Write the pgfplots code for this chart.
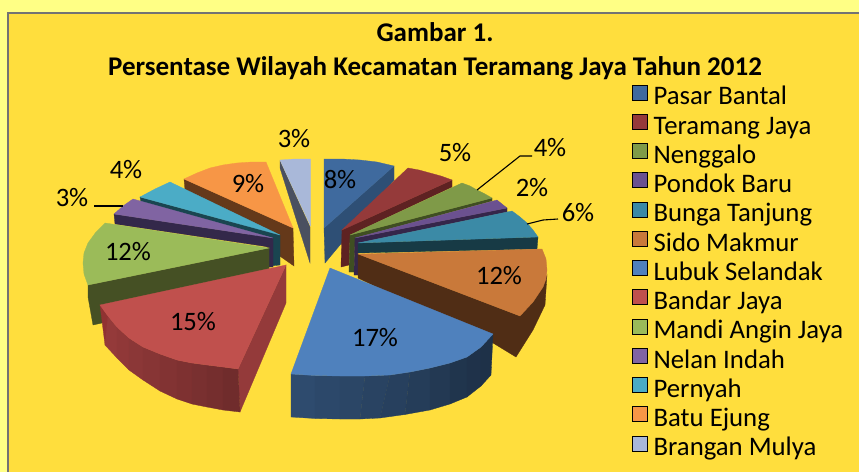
\documentclass[border=0pt]{standalone}
\usepackage{pgfplots}
\pgfplotsset{compat=1.18}
\usepackage{fontspec}
\setmainfont{Carlito}
\definecolor{bgout}{HTML}{FFFF85}
\definecolor{bgin}{HTML}{FFDE3D}
\definecolor{cA}{HTML}{3F6A9E}\definecolor{cAs}{HTML}{2E4F75}
\definecolor{cB}{HTML}{953A3A}\definecolor{cBs}{HTML}{5E2222}
\definecolor{cC}{HTML}{7F9A48}\definecolor{cCs}{HTML}{3F4E22}
\definecolor{cD}{HTML}{6B5190}\definecolor{cDs}{HTML}{35264A}
\definecolor{cE}{HTML}{3B8AA6}\definecolor{cEs}{HTML}{173A45}
\definecolor{cF}{HTML}{C9793A}\definecolor{cFs}{HTML}{502D15}
\definecolor{cG}{HTML}{4F81BD}
\definecolor{cH}{HTML}{C0504D}\definecolor{cHs}{HTML}{943A3A}
\definecolor{cI}{HTML}{9BBB59}\definecolor{cIs}{HTML}{455024}
\definecolor{cJ}{HTML}{8064A2}\definecolor{cJs}{HTML}{33284A}
\definecolor{cK}{HTML}{4BACC6}\definecolor{cKs}{HTML}{1A4550}
\definecolor{cL}{HTML}{F79646}\definecolor{cLs}{HTML}{65391A}
\definecolor{cM}{HTML}{A9B8D9}\definecolor{cMs}{HTML}{4A5060}
\pgfplotsset{
  f/.style={fill=#1, draw=#1, line width=0.3pt, mark=none, forget plot},
}
\begin{document}
\begin{tikzpicture}
\begin{axis}[
  scale only axis, width=859pt, height=471pt,
  xmin=0, xmax=859, ymin=0, ymax=471, y dir=reverse,
  axis lines=none, clip=true,
  legend cell align=left,
  legend image code/.code={\fill[#1] (0pt,-1pt) rectangle (15pt,14pt);},
  legend style={at={(axis cs:632,84.5)}, anchor=north west, draw=none, fill=none,
    font=\fontsize{26.75}{29}\selectfont, row sep=3.05pt, column sep=3pt, inner sep=0pt,
    nodes={inner xsep=3pt, inner ysep=0pt, text depth=6pt, text height=18pt}},
]
\addlegendimage{fill=cA}\addlegendentry{Pasar Bantal}
\addlegendimage{fill=cB}\addlegendentry{Teramang Jaya}
\addlegendimage{fill=cC}\addlegendentry{Nenggalo}
\addlegendimage{fill=cD}\addlegendentry{Pondok Baru}
\addlegendimage{fill=cE}\addlegendentry{Bunga Tanjung}
\addlegendimage{fill=cF}\addlegendentry{Sido Makmur}
\addlegendimage{fill=cG}\addlegendentry{Lubuk Selandak}
\addlegendimage{fill=cH}\addlegendentry{Bandar Jaya}
\addlegendimage{fill=cI}\addlegendentry{Mandi Angin Jaya}
\addlegendimage{fill=cJ}\addlegendentry{Nelan Indah}
\addlegendimage{fill=cK}\addlegendentry{Pernyah}
\addlegendimage{fill=cL}\addlegendentry{Batu Ejung}
\addlegendimage{fill=cM}\addlegendentry{Brangan Mulya}
% background
\addplot[f=bgout] coordinates {(0,0)(859,0)(859,471)(0,471)} --cycle;
\addplot[fill=bgin, draw=gray!90!black, line width=2pt, mark=none, forget plot] coordinates {(8,13)(870,13)(870,480)(8,480)} --cycle;
% Brangan Mulya
\addplot[f=cMs] coordinates {(280,161)(310,227)(310,263)(280,168)} --cycle;
\addplot[f=cM] coordinates {(280,160)(295,159)(310.5,159)(310.5,226)} --cycle;
% Batu Ejung
\addplot[f=cLs] coordinates {(184,179)(293,228)(294,266)(185,190)} --cycle;
\addplot[f=cL] coordinates {(184,179)(197,173)(210,168)(223,165)(237,163)(252,162)(266,162)(293,228)} --cycle;
% Pasar Bantal
\addplot[f=cAs] coordinates {(394,166)(394,180)(325,263)(324,228)} --cycle;
\addplot[f=cA] coordinates {(324,159)(342,159)(360,160)(377,162)(394,166)(324,228)} --cycle;
% Teramang Jaya
\addplot[f=cBs] coordinates {(342,230)(452,180)(452,187)(350,235)(349,265)(341,267)} --cycle;
\addplot[f=cB] coordinates {(342,230)(408,168)(419,170)(430,173)(441,176)(452,180)} --cycle;
% Nenggalo
\addplot[f=cCs] coordinates {(350,235)(492,198)(492,201)(355,238)(354,272)(349,272)} --cycle;
\addplot[f=cC] coordinates {(350,235)(462,183)(470,186)(477,190)(485,194)(492,198)} --cycle;
% Pondok Baru
\addplot[f=cDs] coordinates {(355,238)(507,208)(507,212)(358,243)(358,275)(354,275)} --cycle;
\addplot[f=cD] coordinates {(355,238)(497,200)(502,204)(507,208)} --cycle;
% Bunga Tanjung
\addplot[f=cEs] coordinates {(358,243)(538,237)(537,249)(358,253)} --cycle;
\addplot[f=cE] coordinates {(358,243)(512,211)(520,217)(527,223)(533,230)(538,237)} --cycle;
% Pernyah
\addplot[f=cKs] coordinates {(140,197)(280,235)(280,265)(270,266)(270,240)(141,202)} --cycle;
\addplot[f=cK] coordinates {(140,197)(155,189)(170,182)(280,235)} --cycle;
% Nelan Indah
\addplot[f=cJs] coordinates {(114,214)(273,238)(273,267)(269,267)(269,247)(115,224)} --cycle;
\addplot[f=cJ] coordinates {(114,214)(123,206)(133,199)(273,238)} --cycle;
% Mandi Angin Jaya
\addplot[f=cIs] coordinates {(88,285)(269,248)(269,270)(102,307)(102,323)(93,325)(88,297)} --cycle;
\addplot[f=cI] coordinates {(88,285)(84,274)(83,263)(84,253)(88,243)(96,232)(105,223)(269,248)} --cycle;
% Sido Makmur
\addplot[f=cFs] coordinates {(358,254)(520,316)(543,287)(547,275)(545,305)(533,330)(516,357)(493,343)(358,278)} --cycle;
\addplot[f=cF] coordinates {(358,254)(542,249)(546,259)(547,270)(546,279)(543,287)(533,302)(520,316)} --cycle;
% Bandar Jaya: cut face, then outer wall in bands, then top
\addplot[f=cHs] coordinates {(238,369)(286,265)(286,303)(240,412)} --cycle;
\addplot[f=cHs!104] coordinates {(100,305)(108,316)(109,341)(105,345)} --cycle;
\addplot[f=cHs!100!black] coordinates {(108,316)(117,327)(117,358)(105,345)} --cycle;
\addplot[f=cHs!97!black] coordinates {(117,327)(129,338)(129,370)(117,358)} --cycle;
\addplot[f=cHs!94!black] coordinates {(129,338)(143,347)(143,380)(129,370)} --cycle;
\addplot[f=cHs!91!black] coordinates {(143,347)(160,354)(160,391)(143,380)} --cycle;
\addplot[f=cHs!88!black] coordinates {(160,354)(177,360)(177,399)(160,391)} --cycle;
\addplot[f=cHs!85!black] coordinates {(177,360)(192,363)(192,404)(177,399)} --cycle;
\addplot[f=cHs!82!black] coordinates {(192,363)(207,365)(207,407)(192,404)} --cycle;
\addplot[f=cHs!79!black] coordinates {(207,365)(223,367)(223,410)(207,407)} --cycle;
\addplot[f=cHs!76!black] coordinates {(223,367)(238,369)(240,412)(223,410)} --cycle;
\addplot[f=cH] coordinates {(100,305)(286,265)(238,369)(223,367)(207,365)(192,363)(177,360)(160,354)(143,347)(129,338)(117,327)(108,316)} --cycle;
% Lubuk Selandak: wall in bands, then top
\addplot[f=cG!58!black] coordinates {(291,374)(315,375.5)(315,418.5)(291,417)} --cycle;
\addplot[f=cG!56!black] coordinates {(315,375.5)(340,376)(340,419)(315,418.5)} --cycle;
\addplot[f=cG!54!black] coordinates {(340,376)(365,376)(360,419)(340,419)} --cycle;
\addplot[f=cG!52!black] coordinates {(365,376)(390,375)(380,418)(360,419)} --cycle;
\addplot[f=cG!50!black] coordinates {(390,375)(410,372)(405,414.5)(380,418)} --cycle;
\addplot[f=cG!47!black] coordinates {(410,372)(430,368)(430,410)(405,414.5)} --cycle;
\addplot[f=cG!44!black] coordinates {(430,368)(450,363)(450,404)(430,410)} --cycle;
\addplot[f=cG!41!black] coordinates {(450,363)(467,357)(467,397)(450,404)} --cycle;
\addplot[f=cG!39!black] coordinates {(467,357)(481,347)(481,386)(467,397)} --cycle;
\addplot[f=cG!38!black] coordinates {(481,347)(493,334)(491,375)(481,386)} --cycle;
\addplot[f=cG] coordinates {(330,268)(493,334)(481,347)(467,357)(450,363)(430,368)(410,372)(390,375)(365,376)(340,376)(315,375.5)(291,374)} --cycle;
% leader lines
\addplot[black, line width=1.1pt, mark=none, forget plot] coordinates {(477,190)(520,156)(532,156)};
\addplot[black, line width=1.1pt, mark=none, forget plot] coordinates {(527,224)(543,220)(558,219)};
\addplot[black, line width=1.1pt, mark=none, forget plot] coordinates {(94,206)(123,206)};
% labels
\begin{scope}[every node/.style={font=\fontsize{26.6}{28}\selectfont, inner sep=0pt, anchor=center}]
\node at (axis cs:340,180) {8\%};
\node at (axis cs:455,153) {5\%};
\node at (axis cs:550,148) {4\%};
\node at (axis cs:532,188) {2\%};
\node at (axis cs:578,213) {6\%};
\node at (axis cs:499,276) {12\%};
\node at (axis cs:375,338) {17\%};
\node at (axis cs:193,322) {15\%};
\node at (axis cs:128,252) {12\%};
\node at (axis cs:72,198) {3\%};
\node at (axis cs:126,170) {4\%};
\node at (axis cs:248,184) {9\%};
\node at (axis cs:294,139) {3\%};
\end{scope}
\node[font=\fontsize{27}{29}\selectfont\bfseries, anchor=center, inner sep=0pt] at (axis cs:435,32.5) {Gambar 1.};
\node[font=\fontsize{27}{29}\selectfont\bfseries, anchor=center, inner sep=0pt] at (axis cs:435,68) {Persentase Wilayah Kecamatan Teramang Jaya Tahun 2012};
\end{axis}
\end{tikzpicture}
\end{document}
